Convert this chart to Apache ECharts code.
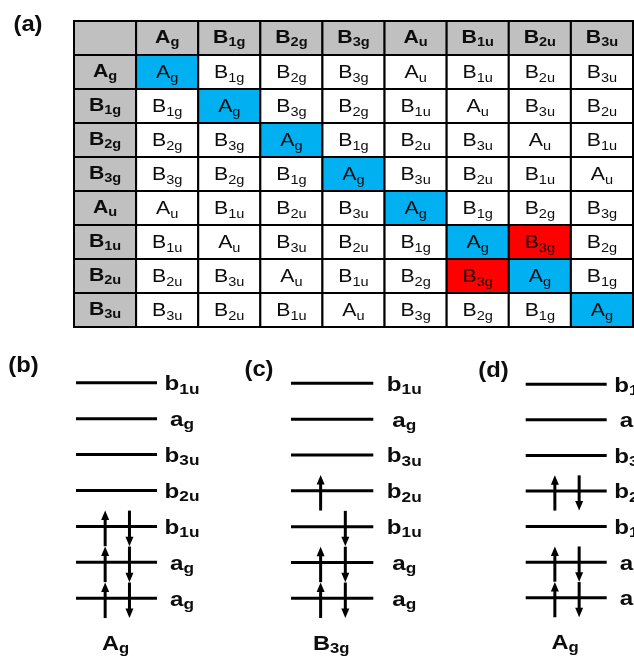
<!DOCTYPE html>
<html>
<head>
<meta charset="utf-8">
<script src="https://cdn.jsdelivr.net/npm/echarts@6/dist/echarts.min.js"></script>
<style>
  html, body { margin: 0; padding: 0; background: #ffffff; }
  #chart { width: 634px; height: 667px; }
</style>
</head>
<body>
<div id="chart"></div>
<script>
// Irreducible representations of the D2h point group
const irreps = ['Ag', 'B1g', 'B2g', 'B3g', 'Au', 'B1u', 'B2u', 'B3u'];

// Direct-product table: productRows[r][c] = irreps[r] x irreps[c]
const productRows = [
  ['Ag',  'B1g', 'B2g', 'B3g', 'Au',  'B1u', 'B2u', 'B3u'],
  ['B1g', 'Ag',  'B3g', 'B2g', 'B1u', 'Au',  'B3u', 'B2u'],
  ['B2g', 'B3g', 'Ag',  'B1g', 'B2u', 'B3u', 'Au',  'B1u'],
  ['B3g', 'B2g', 'B1g', 'Ag',  'B3u', 'B2u', 'B1u', 'Au'],
  ['Au',  'B1u', 'B2u', 'B3u', 'Ag',  'B1g', 'B2g', 'B3g'],
  ['B1u', 'Au',  'B3u', 'B2u', 'B1g', 'Ag',  'B3g', 'B2g'],
  ['B2u', 'B3u', 'Au',  'B1u', 'B2g', 'B3g', 'Ag',  'B1g'],
  ['B3u', 'B2u', 'B1u', 'Au',  'B3g', 'B2g', 'B1g', 'Ag']
];

// Products picked out as the excited-state symmetry
const excitedPairs = [['B1u', 'B2u'], ['B2u', 'B1u']];

// Orbital levels, listed from the lowest to the highest
const levelLabels = ['ag', 'ag', 'b1u', 'b2u', 'b3u', 'ag', 'b1u'];

// Occupation of each level (spin up / spin down) for panels (b), (c), (d)
const spinUp = [
  [1, 1, 1, 0, 0, 0, 0],
  [1, 1, 0, 1, 0, 0, 0],
  [1, 1, 0, 1, 0, 0, 0]
];
const spinDown = [
  [1, 1, 1, 0, 0, 0, 0],
  [1, 1, 1, 0, 0, 0, 0],
  [1, 1, 0, 1, 0, 0, 0]
];

// Overall symmetry of each configuration
const stateLabels = ['Ag', 'B3g', 'Ag'];

// Panel letters
const panelLetters = ['(a)', '(b)', '(c)', '(d)'];

const FONT = '"Liberation Sans", Arial, Helvetica, sans-serif';
const INK = '#0d0d0d';

// "B1g" -> main letter followed by a subscript
function richText(label) {
  return '{m|' + label.charAt(0) + '}{s|' + label.slice(1) + '}';
}
function richStyles(bold, size, subSize, lift) {
  const w = bold ? 'bold' : 'normal';
  return {
    m: { fontFamily: FONT, fontSize: size, fontWeight: w, lineHeight: size,
         verticalAlign: 'bottom', padding: [0, 0, lift, 0], fill: INK },
    s: { fontFamily: FONT, fontSize: subSize, fontWeight: w, lineHeight: subSize,
         verticalAlign: 'bottom', padding: [0, 0, 0, 0], fill: INK }
  };
}
const richHeader = richStyles(true, 19, 13, 2);
const richBody = richStyles(false, 19, 13, 2);
const richLevel = richStyles(true, 21, 15, 2);
const richState = richStyles(true, 20.5, 14.5, 2);

const FILL = {
  corner: '#c0c0c0',
  header: '#c0c0c0',
  identity: '#00b0f0',
  excited: '#ff0000',
  plain: '#ffffff'
};

// Build the 9 x 9 grid of cells (header row/column + products)
const cells = [];
for (let r = 0; r <= irreps.length; r++) {
  for (let c = 0; c <= irreps.length; c++) {
    let text = '';
    let kind;
    if (r === 0 && c === 0) {
      kind = 'corner';
    } else if (r === 0) {
      text = irreps[c - 1]; kind = 'header';
    } else if (c === 0) {
      text = irreps[r - 1]; kind = 'header';
    } else {
      text = productRows[r - 1][c - 1];
      const excited = excitedPairs.some(function (p) {
        return p[0] === irreps[r - 1] && p[1] === irreps[c - 1];
      });
      kind = excited ? 'excited' : (text === 'Ag' ? 'identity' : 'plain');
    }
    cells.push({ value: [c, r], text: text, kind: kind });
  }
}
const axisCats = [''].concat(irreps);

function renderCell(params, api) {
  const d = cells[params.dataIndex];
  const p = api.coord([api.value(0), api.value(1)]);
  const s = api.size([1, 1]);
  const bold = d.kind === 'header';
  const children = [{
    type: 'rect',
    shape: { x: p[0] - s[0] / 2, y: p[1] - s[1] / 2, width: s[0], height: s[1] },
    style: { fill: FILL[d.kind], stroke: '#000', lineWidth: 2 }
  }];
  if (d.text) {
    children.push({
      type: 'text',
      x: p[0], y: p[1] + (bold ? 1.6 : 3.0),
      scaleX: 1.12,
      style: { text: richText(d.text), rich: bold ? richHeader : richBody,
               align: 'center', verticalAlign: 'middle' }
    });
  }
  return { type: 'group', children: children };
}

// Level diagram panels
const panelGrids = [
  { left: 76, top: 382.7, width: 81, height: 215.6 },
  { left: 291, top: 383.3, width: 82.3, height: 215 },
  { left: 525.7, top: 384.3, width: 81, height: 213.4 }
];
const labelDx = [25, 31, 25];
const UP_X = 0.36, DOWN_X = 0.66;

function levelSeries(k) {
  return {
    type: 'custom',
    xAxisIndex: k + 1, yAxisIndex: k + 1,
    data: levelLabels.map(function (l, i) { return [0, i]; }),
    renderItem: function (params, api) {
      const i = api.value(1);
      const a = api.coord([0, i]);
      const b = api.coord([1, i]);
      return {
        type: 'group',
        children: [
          { type: 'line', shape: { x1: a[0], y1: a[1], x2: b[0], y2: b[1] },
            style: { stroke: '#000', lineWidth: 3 } },
          { type: 'text', x: b[0] + labelDx[k], y: b[1] + 3.7, scaleX: 1.15,
            style: { text: richText(levelLabels[i]), rich: richLevel,
                     align: 'center', verticalAlign: 'middle' } }
        ]
      };
    }
  };
}

function arrowSeries(k) {
  const data = [];
  spinUp[k].forEach(function (v, i) { if (v) data.push([UP_X, i, 1]); });
  spinDown[k].forEach(function (v, i) { if (v) data.push([DOWN_X, i, -1]); });
  return {
    type: 'custom',
    xAxisIndex: k + 1, yAxisIndex: k + 1,
    data: data,
    renderItem: function (params, api) {
      const x = api.value(0), i = api.value(1), dir = api.value(2);
      const tail = api.coord([x, dir > 0 ? i - 0.55 : i + 0.44]);
      const tip = api.coord([x, dir > 0 ? i + 0.44 : i - 0.55]);
      const sgn = dir > 0 ? 1 : -1;       // head base lies below an up tip
      const headLen = 9.5, halfW = 4;
      return {
        type: 'group',
        children: [
          { type: 'line',
            shape: { x1: tail[0], y1: tail[1], x2: tip[0], y2: tip[1] + sgn * (headLen - 1) },
            style: { stroke: '#000', lineWidth: 3 } },
          { type: 'polygon',
            shape: { points: [[tip[0], tip[1]],
                              [tip[0] - halfW, tip[1] + sgn * headLen],
                              [tip[0] + halfW, tip[1] + sgn * headLen]] },
            style: { fill: '#000' } }
        ]
      };
    }
  };
}

function stateSeries(k) {
  return {
    type: 'custom',
    xAxisIndex: k + 1, yAxisIndex: k + 1,
    data: [[0.5, 0]],
    renderItem: function (params, api) {
      const p = api.coord([api.value(0), api.value(1)]);
      return {
        type: 'text', x: p[0] - 1, y: p[1] + 48, scaleX: 1.15,
        style: { text: richText(stateLabels[k]), rich: richState,
                 align: 'center', verticalAlign: 'middle' }
      };
    }
  };
}

const grids = [{ left: 74, top: 21, width: 559, height: 306 }].concat(panelGrids);
const xAxes = [{ type: 'category', data: axisCats, gridIndex: 0, show: false }];
const yAxes = [{ type: 'category', data: axisCats, gridIndex: 0, show: false, inverse: true }];
panelGrids.forEach(function (g, k) {
  xAxes.push({ type: 'value', gridIndex: k + 1, min: 0, max: 1, show: false });
  yAxes.push({ type: 'value', gridIndex: k + 1, min: 0, max: 6, show: false });
});

const series = [{
  type: 'custom',
  xAxisIndex: 0, yAxisIndex: 0,
  data: cells.map(function (d) { return d.value; }),
  renderItem: renderCell
}];
for (let k = 0; k < 3; k++) {
  series.push(levelSeries(k), arrowSeries(k), stateSeries(k));
}

// Panel letters placed at the corner of each panel
const letterPos = [[28, 24], [23.5, 365], [259, 369], [493.5, 370]];
const graphics = panelLetters.map(function (t, i) {
  return {
    type: 'text', x: letterPos[i][0], y: letterPos[i][1] + 1, scaleX: 1.08,
    style: { text: t, font: 'bold 22px ' + FONT, fill: INK,
             align: 'center', verticalAlign: 'middle' }
  };
});

const chart = echarts.init(document.getElementById('chart'));
chart.setOption({
  animation: false,
  backgroundColor: '#ffffff',
  grid: grids,
  xAxis: xAxes,
  yAxis: yAxes,
  graphic: graphics,
  series: series
});
</script>
</body>
</html>
